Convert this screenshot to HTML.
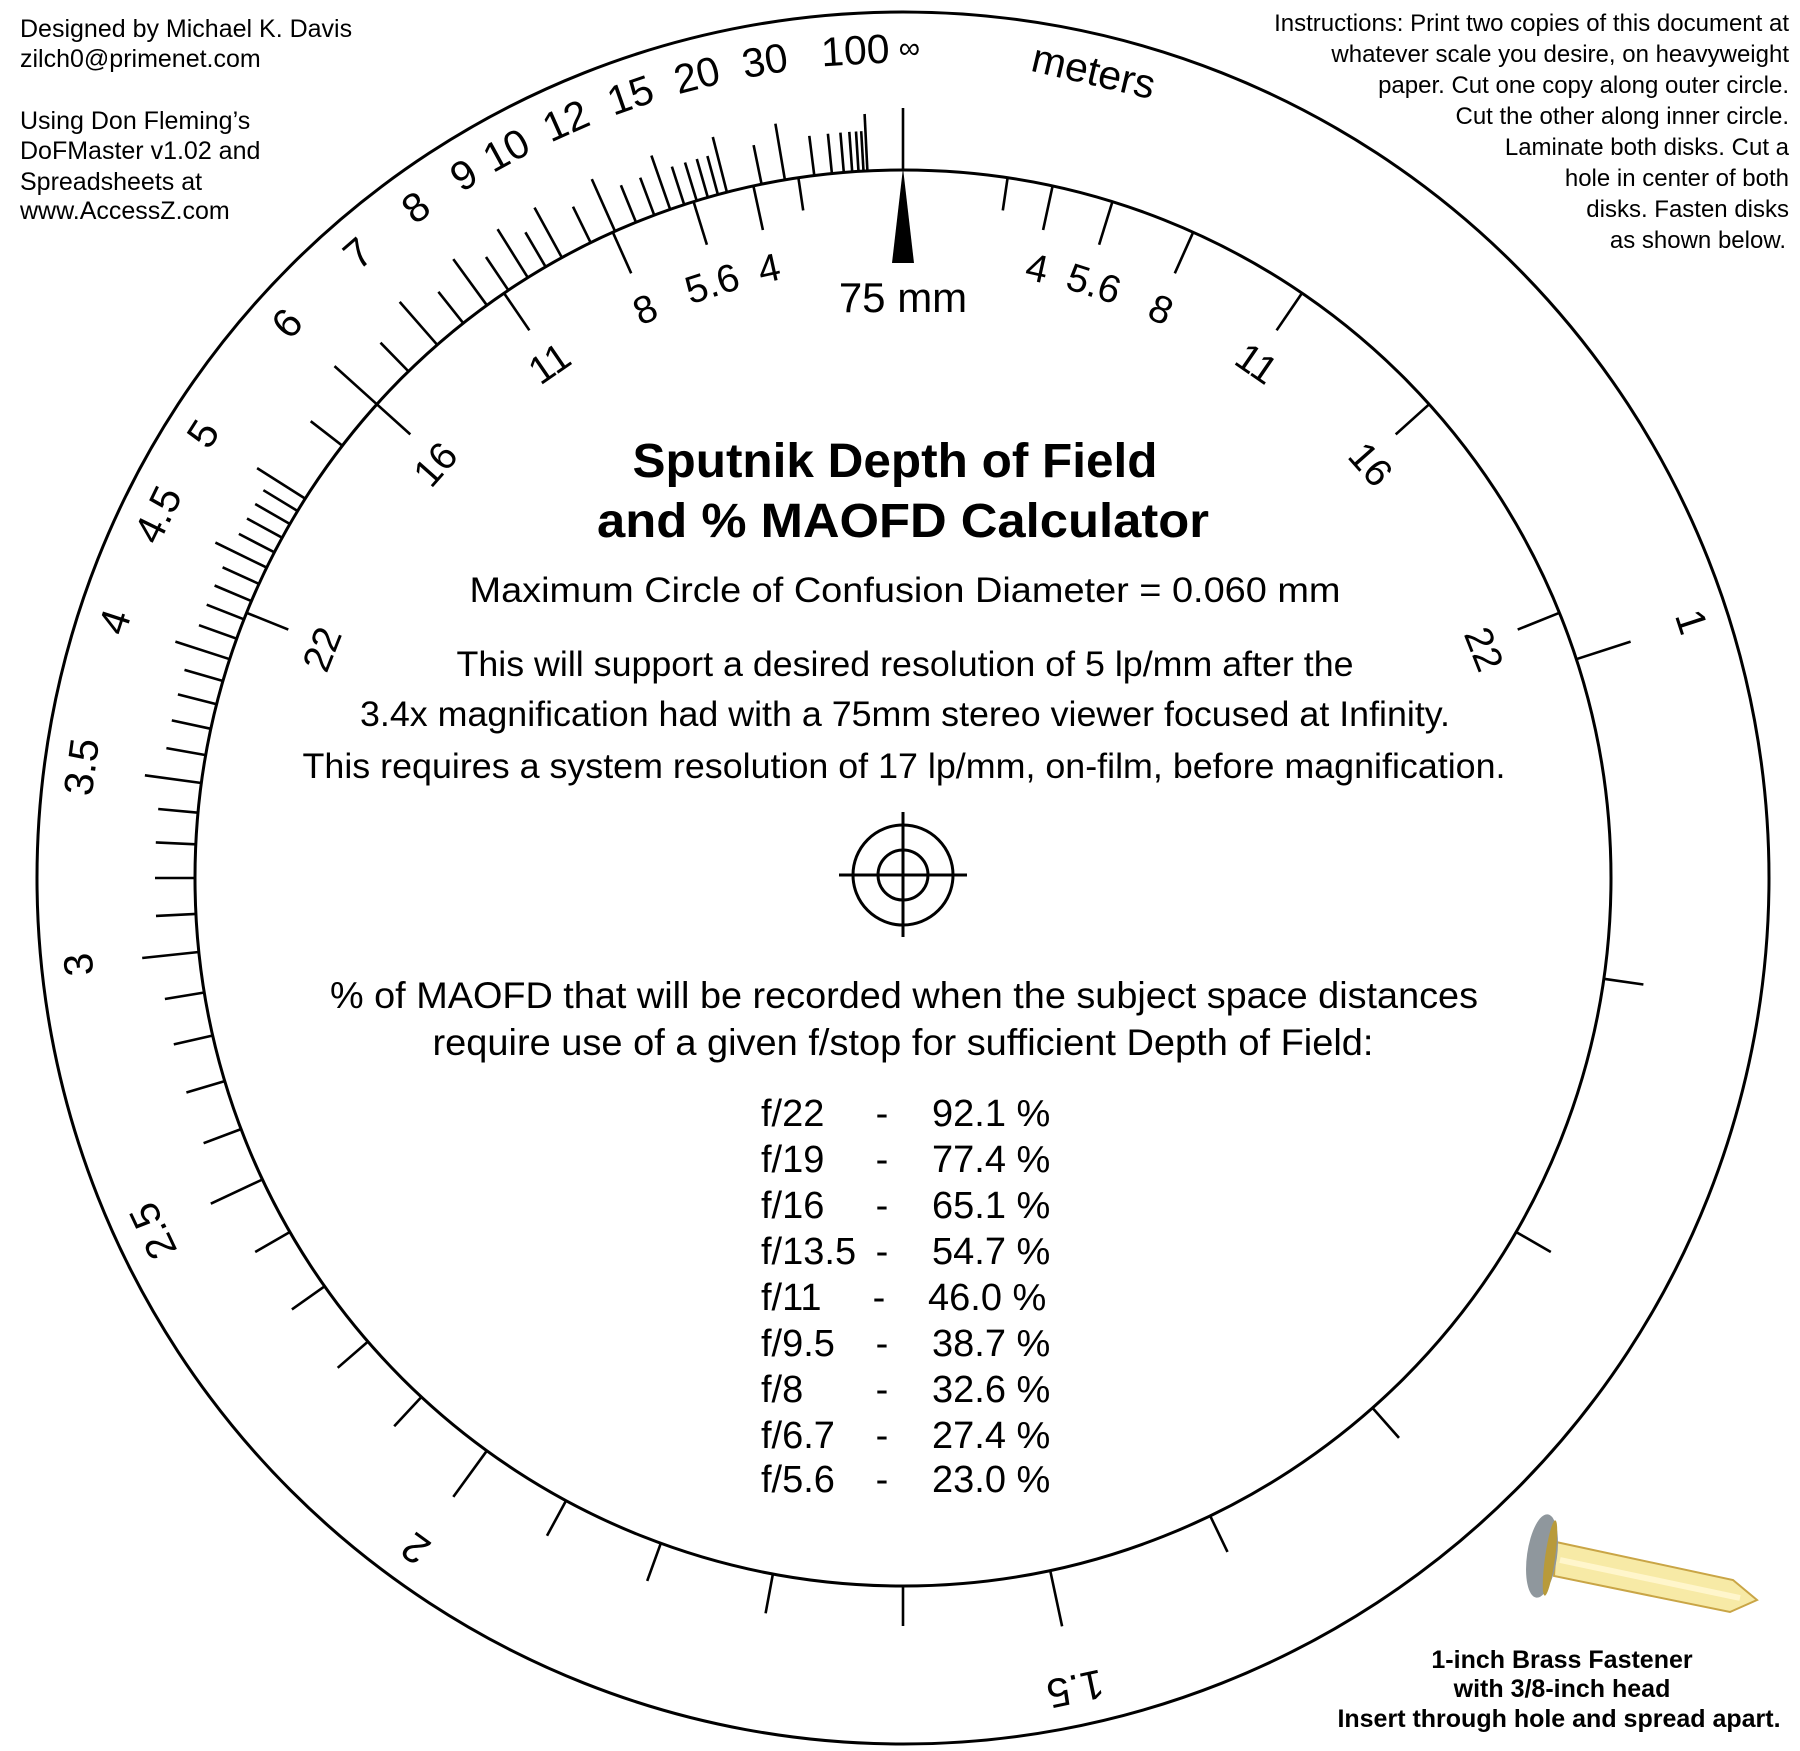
<!DOCTYPE html>
<html><head><meta charset="utf-8"><style>
html,body{margin:0;padding:0;background:#fff;}
svg{display:block;}
text{font-family:"Liberation Sans",Arial,sans-serif;fill:#000;}
.pre{white-space:pre;}
</style></head><body>
<svg id="s" width="1800" height="1751" viewBox="0 0 1800 1751" xmlns="http://www.w3.org/2000/svg">
<rect width="1800" height="1751" fill="#fff"/>
<circle cx="903" cy="878" r="866" fill="none" stroke="#000" stroke-width="3"/>
<circle cx="903" cy="878" r="708" fill="none" stroke="#000" stroke-width="3"/>
<g id="ticks" stroke="#000" stroke-width="2.6" stroke-linecap="butt"></g>
<line x1="903" y1="108" x2="903" y2="170" stroke="#000" stroke-width="2.6"/>
<polygon points="903,168 892,263 914,263" fill="#000"/>
<text x="903" y="312" font-size="42" text-anchor="middle">75 mm</text>

<g font-size="41" text-anchor="middle">
<text x="903" y="63" transform="rotate(72 903 878)">1</text>
<text x="903" y="63" transform="rotate(168 903 878)">1.5</text>
<text x="903" y="63" transform="rotate(-144 903 878)">2</text>
<text x="903" y="63" transform="rotate(-115.2 903 878)">2.5</text>
<text x="903" y="63" transform="rotate(-96 903 878)">3</text>
<text x="903" y="63" transform="rotate(-82.3 903 878)">3.5</text>
<text x="903" y="63" transform="rotate(-72 903 878)">4</text>
<text x="903" y="63" transform="rotate(-64 903 878)">4.5</text>
<text x="903" y="63" transform="rotate(-57.6 903 878)">5</text>
<text x="903" y="63" transform="rotate(-48 903 878)">6</text>
<text x="903" y="63" transform="rotate(-41.1 903 878)">7</text>
<text x="903" y="63" transform="rotate(-36 903 878)">8</text>
<text x="903" y="63" transform="rotate(-32 903 878)">9</text>
<text x="903" y="63" transform="rotate(-28.6 903 878)">10</text>
<text x="903" y="63" transform="rotate(-24 903 878)">12</text>
<text x="903" y="63" transform="rotate(-19.2 903 878)">15</text>
<text x="903" y="63" transform="rotate(-14.4 903 878)">20</text>
<text x="903" y="63" transform="rotate(-9.6 903 878)">30</text>
<text x="903" y="63" transform="rotate(-3.3 903 878)">100</text>
<text x="905" y="58" font-size="30" transform="rotate(0.3 903 878)">∞</text>
<text x="903" y="63" transform="rotate(13.3 903 878)">meters</text>
</g>

<g font-size="39" text-anchor="middle">
<text x="903" y="267" transform="rotate(-12.4 903 878)">4</text>
<text x="903" y="267" transform="rotate(12.4 903 878)">4</text>
<text x="903" y="267" transform="rotate(-17.8 903 878)">5.6</text>
<text x="903" y="267" transform="rotate(17.8 903 878)">5.6</text>
<text x="903" y="267" transform="rotate(-24.4 903 878)">8</text>
<text x="903" y="267" transform="rotate(24.4 903 878)">8</text>
<text x="903" y="267" transform="rotate(-34.5 903 878)">11</text>
<text x="903" y="267" transform="rotate(34.5 903 878)">11</text>
<text x="903" y="267" transform="rotate(-48.5 903 878)">16</text>
<text x="903" y="267" transform="rotate(48.5 903 878)">16</text>
<text x="903" y="267" transform="rotate(-68.5 903 878)">22</text>
<text x="903" y="267" transform="rotate(68.5 903 878)">22</text>
</g>

<g text-anchor="middle">
<text x="895" y="477" font-size="48" font-weight="bold" textLength="525" lengthAdjust="spacingAndGlyphs">Sputnik Depth of Field</text>
<text x="903" y="537" font-size="48" font-weight="bold" textLength="612" lengthAdjust="spacingAndGlyphs">and % MAOFD Calculator</text>
<text x="905" y="602" font-size="35" textLength="871" lengthAdjust="spacingAndGlyphs">Maximum Circle of Confusion Diameter = 0.060 mm</text>
<text x="905" y="676" font-size="35" textLength="897" lengthAdjust="spacingAndGlyphs">This will support a desired resolution of 5 lp/mm after the</text>
<text x="905" y="726" font-size="35" textLength="1090" lengthAdjust="spacingAndGlyphs">3.4x magnification had with a 75mm stereo viewer focused at Infinity.</text>
<text x="904" y="778" font-size="35" textLength="1203" lengthAdjust="spacingAndGlyphs">This requires a system resolution of 17 lp/mm, on-film, before magnification.</text>
<text x="904" y="1008" font-size="37" textLength="1148" lengthAdjust="spacingAndGlyphs">% of MAOFD that will be recorded when the subject space distances</text>
<text x="903" y="1055" font-size="37" textLength="941" lengthAdjust="spacingAndGlyphs">require use of a given f/stop for sufficient Depth of Field:</text>
</g>

<g stroke="#000" stroke-width="3" fill="none">
<circle cx="903" cy="875" r="50"/>
<circle cx="903" cy="875" r="25"/>
<line x1="839" y1="875" x2="967" y2="875"/>
<line x1="903" y1="812" x2="903" y2="937"/>
</g>

<g font-size="38">
<text x="761" y="1126">f/22</text><text x="882" y="1126" text-anchor="middle">-</text><text x="932" y="1126">92.1 %</text>
<text x="761" y="1172">f/19</text><text x="882" y="1172" text-anchor="middle">-</text><text x="932" y="1172">77.4 %</text>
<text x="761" y="1218">f/16</text><text x="882" y="1218" text-anchor="middle">-</text><text x="932" y="1218">65.1 %</text>
<text x="761" y="1264">f/13.5</text><text x="882" y="1264" text-anchor="middle">-</text><text x="932" y="1264">54.7 %</text>
<text x="761" y="1310">f/11</text><text x="879" y="1310" text-anchor="middle">-</text><text x="928" y="1310">46.0 %</text>
<text x="761" y="1356">f/9.5</text><text x="882" y="1356" text-anchor="middle">-</text><text x="932" y="1356">38.7 %</text>
<text x="761" y="1402">f/8</text><text x="882" y="1402" text-anchor="middle">-</text><text x="932" y="1402">32.6 %</text>
<text x="761" y="1448">f/6.7</text><text x="882" y="1448" text-anchor="middle">-</text><text x="932" y="1448">27.4 %</text>
<text x="761" y="1492">f/5.6</text><text x="882" y="1492" text-anchor="middle">-</text><text x="932" y="1492">23.0 %</text>
</g>

<g font-size="25" class="pre">
<text x="20" y="37">Designed by Michael K. Davis</text>
<text x="20" y="67">zilch0@primenet.com</text>
<text x="20" y="129">Using Don Fleming’s</text>
<text x="20" y="159">DoFMaster v1.02  and</text>
<text x="20" y="190">Spreadsheets at</text>
<text x="20" y="219">www.AccessZ.com</text>
</g>
<g font-size="24" text-anchor="end" class="pre">
<text x="1789" y="31">Instructions:  Print two copies of this document at</text>
<text x="1789" y="62">whatever scale you desire, on heavyweight</text>
<text x="1789" y="93">paper. Cut one copy along outer circle.</text>
<text x="1789" y="124">Cut the other along inner circle.</text>
<text x="1789" y="155">Laminate both disks.  Cut a</text>
<text x="1789" y="186">hole in center of both</text>
<text x="1789" y="217">disks. Fasten disks</text>
<text x="1786" y="248">as shown below.</text>
</g>

<polygon points="1556,1542 1733,1580 1757,1600 1730,1612 1554,1576" fill="#f7eaa6" stroke="#c9a546" stroke-width="2"/>
<line x1="1560" y1="1560" x2="1740" y2="1598" stroke="#fff6cc" stroke-width="6"/>
<ellipse cx="1542" cy="1556" rx="15" ry="42" fill="#8f979d" transform="rotate(8 1542 1556)"/>
<ellipse cx="1550" cy="1558" rx="5" ry="38" fill="#b89a3a" transform="rotate(8 1550 1558)"/>
<g font-size="25" font-weight="bold" text-anchor="middle">
<text x="1562" y="1668">1-inch Brass Fastener</text>
<text x="1562" y="1697">with 3/8-inch head</text>
<text x="1559" y="1727">Insert through hole and spread apart.</text>
</g>
</svg>
<script>
(function(){
var g=document.getElementById('ticks'),cx=903,cy=878,R=708,ns='http://www.w3.org/2000/svg';
function tick(a,r1,r2){var t=a*Math.PI/180,s=Math.sin(t),c=-Math.cos(t);
var l=document.createElementNS(ns,'line');
l.setAttribute('x1',(cx+r1*s).toFixed(1));l.setAttribute('y1',(cy+r1*c).toFixed(1));
l.setAttribute('x2',(cx+r2*s).toFixed(1));l.setAttribute('y2',(cy+r2*c).toFixed(1));g.appendChild(l);}
var ds=[],longs={};
function add(d,L){ds.push(d);if(L)longs[d.toFixed(2)]=1;}
var i;
for(i=10;i<30;i++){var d=i/10;add(d,(i%5==0));}
for(i=30;i<=50;i++){add(i/10,(i%5==0));}
[5.5,6,6.5,7,7.5,8,8.5,9,9.5,10].forEach(function(d){add(d,d==Math.round(d));});
[11,12,13,14,15,16,17,18,19].forEach(function(d){add(d,d==12||d==15);});
add(20,1);add(25,0);add(30,1);
[40,50,60,70,80,90].forEach(function(d){add(d,0);});
add(100,1);
ds.forEach(function(d){var a=-288/d;var L=longs[d.toFixed(2)]?57:40;tick(a,R,R+L);});
[12.2,17.2,24.2,34.3,48,68].forEach(function(a){tick(a,R,R-45);tick(-a,R,R-45);});
tick(8.5,R,R-33);tick(-8.5,R,R-33);
})();
</script>
</body></html>
